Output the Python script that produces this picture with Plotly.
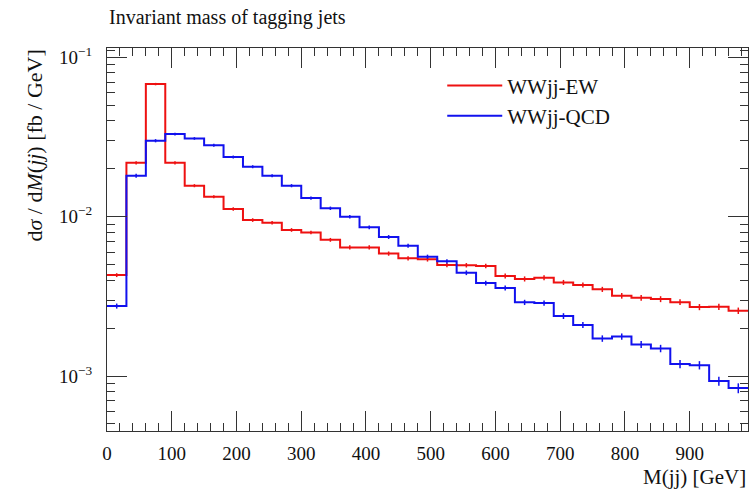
import plotly.graph_objects as go

# Bin edges of M(jj) in GeV (30 GeV bins)
edges = [0, 30, 60, 90, 120, 150, 180, 210, 240, 270, 300, 330, 360, 390, 420, 450,
         480, 510, 540, 570, 600, 630, 660, 690, 720, 750, 780, 810, 840, 870, 900,
         930, 960, 990]

ew = [0.00430, 0.0218, 0.0680, 0.0218, 0.01566, 0.01335, 0.01118, 0.00953, 0.00917,
      0.00826, 0.00796, 0.00716, 0.00642, 0.00642, 0.00587, 0.00548, 0.00540, 0.00497,
      0.00496, 0.00491, 0.00425, 0.00407, 0.00414, 0.00387, 0.00373, 0.00350, 0.00319,
      0.00310, 0.00304, 0.00291, 0.00271, 0.00272, 0.00257]
ew_err = [0.00012, 0.0005, 0.0012, 0.0005, 0.00035, 0.0003, 0.00028, 0.00025, 0.00024,
          0.00022, 0.00021, 0.0002, 0.00019, 0.00019, 0.00018, 0.00017, 0.00017, 0.00016,
          0.00016, 0.00016, 0.00015, 0.00015, 0.00015, 0.00014, 0.00014, 0.00013, 0.00013,
          0.00013, 0.00013, 0.00012, 0.00012, 0.00012, 0.00012]

qcd = [0.00275, 0.01808, 0.0300, 0.0330, 0.0310, 0.0281, 0.0237, 0.0206, 0.01808,
       0.01566, 0.0131, 0.0113, 0.0100, 0.00858, 0.00746, 0.00658, 0.00561, 0.00525,
       0.00445, 0.00383, 0.00357, 0.00290, 0.00287, 0.00238, 0.00209, 0.00172, 0.00177,
       0.00158, 0.00149, 0.00119, 0.00117, 0.00093, 0.00084]
qcd_err = [0.0001, 0.0005, 0.0007, 0.0007, 0.0006, 0.0006, 0.0005, 0.00045, 0.0004,
           0.00036, 0.0003, 0.00028, 0.00026, 0.00023, 0.00021, 0.00019, 0.00017, 0.00016,
           0.00015, 0.00013, 0.00013, 0.00011, 0.00011, 0.0001, 0.00009, 0.00008, 0.00008,
           0.00008, 0.00008, 0.00007, 0.00007, 0.00006, 0.00006]

x_major = [0, 100, 200, 300, 400, 500, 600, 700, 800, 900]
x_minor = [v for v in range(20, 1000, 20) if v % 100 != 0]
y_major = [0.1, 0.01, 0.001]
y_major_text = ["10<sup>\u22121</sup>", "10<sup>\u22122</sup>", "10<sup>\u22123</sup>"]
y_minor = [m * 10.0 ** e for e in (-4, -3, -2, -1) for m in range(2, 10)] + [0.11]

RED = "#ee1111"
BLUE = "#1111ee"
FONT = "Liberation Serif"

fig = go.Figure()

def add_hist(vals, errs, name, color, group):
    xs = edges[:]
    ys = vals + [vals[-1]]
    fig.add_trace(go.Scatter(
        x=xs, y=ys, mode="lines", line=dict(shape="hv", color=color, width=2),
        name=name, legendgroup=group, showlegend=True))
    centers = [(edges[i] + edges[i + 1]) / 2 for i in range(len(vals))]
    fig.add_trace(go.Scatter(
        x=centers, y=vals, mode="markers",
        marker=dict(size=1, color="rgba(0,0,0,0)"),
        error_y=dict(type="data", array=errs, visible=True, color=color,
                     thickness=1.5, width=0),
        legendgroup=group, showlegend=False, hoverinfo="skip"))

add_hist(ew, ew_err, "WWjj-EW", RED, "ew")
add_hist(qcd, qcd_err, "WWjj-QCD", BLUE, "qcd")

axis_common = dict(
    showline=True, linecolor="#333", linewidth=1, mirror="ticks",
    ticks="inside", tickcolor="#333", tickwidth=1, ticklen=20,
    showgrid=False, zeroline=False,
    tickfont=dict(family=FONT, size=19, color="#111"),
)

fig.update_xaxes(
    range=[0, 990], tickmode="array", tickvals=x_major,
    ticktext=[str(v) for v in x_major],
    minor=dict(tickmode="array", tickvals=x_minor, ticks="inside", ticklen=8,
               tickcolor="#333", tickwidth=1, showgrid=False),
    ticklabelstandoff=5,
    **axis_common)

fig.update_yaxes(
    type="log", range=[-3.345, -0.941], tickmode="array",
    tickvals=y_major, ticktext=y_major_text,
    minor=dict(tickmode="array", tickvals=y_minor, ticks="inside", ticklen=8,
               tickcolor="#333", tickwidth=1, showgrid=False),
    ticklabelstandoff=10,
    **axis_common)

fig.update_layout(
    width=749, height=490,
    margin=dict(l=107, r=1, t=48, b=59),
    paper_bgcolor="white", plot_bgcolor="white",
    font=dict(family=FONT, size=19, color="#111"),
    showlegend=True,
    legend=dict(x=0.523, y=0.955, xanchor="left", yanchor="top",
                bgcolor="rgba(0,0,0,0)", font=dict(family=FONT, size=21),
                tracegroupgap=0, itemwidth=55),
    annotations=[
        dict(text="Invariant mass of tagging jets", xref="paper", yref="paper",
             x=0, y=1, xanchor="left", yanchor="bottom", yshift=17,
             showarrow=False, font=dict(family=FONT, size=20, color="#111")),
        dict(text="M(jj) [GeV]", xref="paper", yref="paper",
             x=1, y=0, xanchor="right", yanchor="top", yshift=-32,
             showarrow=False, font=dict(family=FONT, size=21, color="#111")),
        dict(text="d<i>σ</i> / d<i>M</i>(<i>jj</i>) [fb / GeV]", xref="paper", yref="paper",
             x=0, y=1, xanchor="right", yanchor="top", xshift=-59, textangle=-90,
             showarrow=False, font=dict(family=FONT, size=22, color="#111")),
    ],
)

fig.write_html("out.html")
